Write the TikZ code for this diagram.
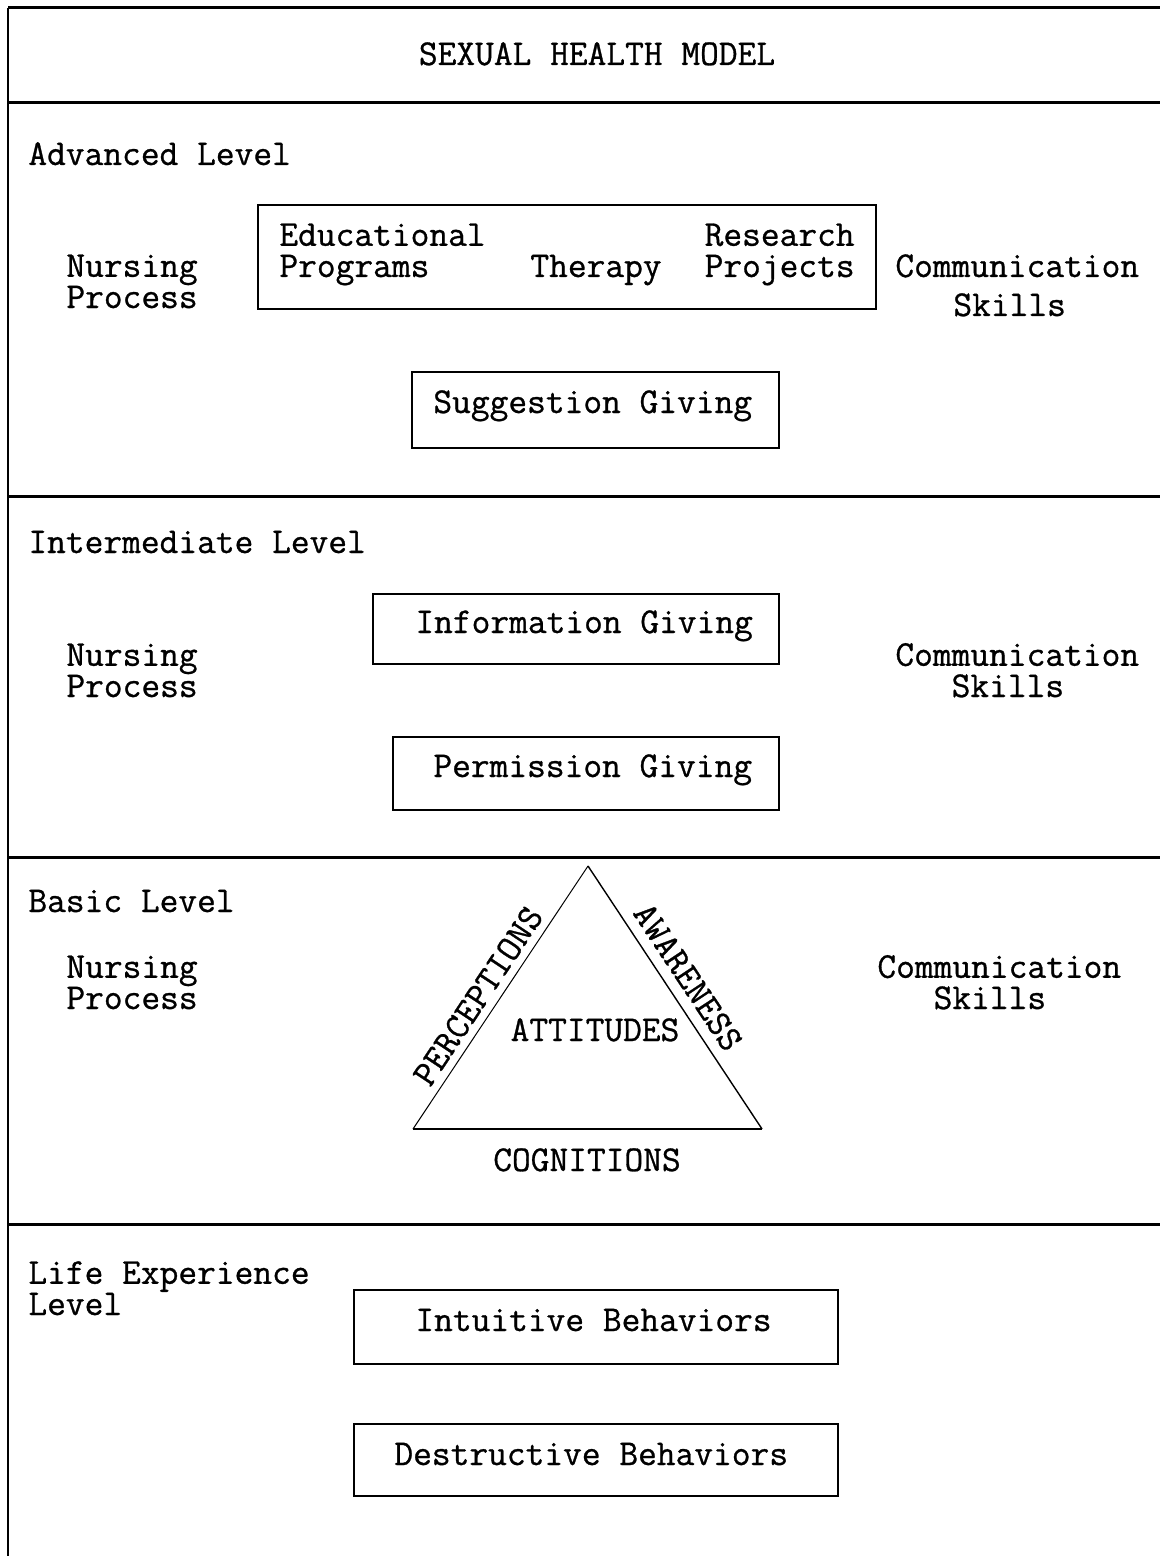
\documentclass[tikz,border=0pt]{standalone}
\usepackage{fontspec}
\newfontfamily\twfont{Latin Modern Mono}[FakeBold=0.8]
\begin{document}
\begin{tikzpicture}[x=0.5pt,y=-0.5pt,
  txt/.style={inner sep=0pt,anchor=base west,align=left,font=\twfont\fontsize{18.2}{15.6}\selectfont},
  sect/.style={line width=1.5pt},
  boxline/.style={line width=0.9pt},
  tri/.style={line width=0.7pt}]
\useasboundingbox (0,0) rectangle (1160,1556);
% frame and section lines
\draw[line width=0.7pt] (8,8) -- (8,1556);
\draw[sect] (8,8) -- (1160,8);
\draw[sect] (8,103) -- (1160,103);
\draw[sect] (8,496) -- (1160,496);
\draw[sect] (8,857) -- (1160,857);
\draw[sect] (8,1224) -- (1160,1224);
% title
\node[txt,anchor=base] (title) at (597,65) {SEXUAL HEALTH MODEL};
% Advanced level
\node[txt] (adv) at (28,165) {Advanced Level};
\node[txt] (np1) at (66,308) {Nursing\\Process};
\draw[boxline] (258,205) rectangle (876,309);
\node[txt] (edu) at (279,277) {Educational\\Programs};
\node[txt] (ther) at (530,277) {Therapy};
\node[txt,align=right,anchor=base east] (res) at (855,277) {Research\\Projects};
\node[txt] (cs1a) at (895,277) {Communication};
\node[txt] (cs1b) at (953,316) {Skills};
\draw[boxline] (412,372) rectangle (779,448);
\node[txt] (sugg) at (433,413) {Suggestion Giving};
% Intermediate level
\node[txt] (inter) at (28,553) {Intermediate Level};
\draw[boxline] (373,594) rectangle (779,664);
\node[txt] (info) at (415,633) {Information Giving};
\node[txt] (np2) at (66,697) {Nursing\\Process};
\node[txt] (cs2) at (895,697) {Communication\\\phantom{Com}Skills};
\draw[boxline] (393,737) rectangle (779,810);
\node[txt] (perm) at (433,777) {Permission Giving};
% Basic level
\node[txt] (basic) at (28,912) {Basic Level};
\node[txt] (np3) at (66,1009) {Nursing\\Process};
\node[txt] (cs3) at (877,1009) {Communication\\\phantom{Com}Skills};
\coordinate (apex) at (588,866);
\coordinate (bl) at (413,1129);
\coordinate (br) at (762,1129);
\draw[tri,line width=0.5pt] (bl) -- (apex);
\draw[tri] (apex) -- (br);
\draw[tri,line width=0.9pt] (bl) -- (br);
\node[txt,anchor=center,rotate=56.4] (perc) at (478,996) {PERCEPTIONS};
\node[txt,anchor=center,rotate=-56.4] (aware) at (688,977) {AWARENESS};
\node[txt,anchor=base] (att) at (595,1041) {ATTITUDES};
\node[txt,anchor=base] (cog) at (587,1171) {COGNITIONS};
% Life experience level
\node[txt] (life) at (28,1315) {Life Experience\\Level};
\draw[boxline] (354,1290) rectangle (838,1364);
\node[txt] (intu) at (415,1331) {Intuitive Behaviors};
\draw[boxline] (354,1424) rectangle (838,1496);
\node[txt] (dest) at (394,1465) {Destructive Behaviors};
\end{tikzpicture}
\end{document}
